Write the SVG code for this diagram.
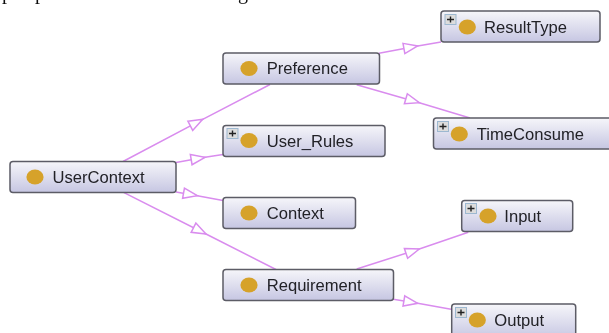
<svg xmlns="http://www.w3.org/2000/svg" width="609" height="333" viewBox="0 0 609 333">
<style>
.box{fill:url(#g);stroke:#5c5c66;stroke-width:1.5}
.dot{fill:#d6a22a}
.lbl{font-family:"Liberation Sans",Arial,sans-serif;font-size:16.6px;fill:#222228}
.top{font-family:"Liberation Serif","Times New Roman",serif;font-size:20px;fill:#111}
.edge{fill:none;stroke:#d98cee;stroke-width:1.5;marker-mid:url(#tri)}
.pb{fill:#dcdcdc;stroke:#9db8d0;stroke-width:1}
.pm{stroke:#222;stroke-width:1.4;fill:none}
</style>
<defs>
<linearGradient id="g" x1="0" y1="0" x2="0" y2="1"><stop offset="0" stop-color="#f6f6fa"/><stop offset="1" stop-color="#c6c6e2"/></linearGradient>
<marker id="tri" markerUnits="userSpaceOnUse" markerWidth="20" markerHeight="16" refX="16" refY="8" orient="auto"><path d="M2 2.8L16 8L2 13.2Z" fill="#fff" stroke="#d98cee" stroke-width="1.5"/></marker>
<filter id="b" x="-2%" y="-2%" width="104%" height="104%"><feGaussianBlur stdDeviation="0.45"/></filter>
<g id="plus"><rect class="pb" x="0" y="0" width="11" height="10"/><path class="pm" d="M2 5H9M5.5 2V8"/></g>
</defs>
<rect width="609" height="333" fill="#fff"/>
<g filter="url(#b)">
<g id="page-text"><text class="top" x="2" y="-1">p</text><text class="top" x="35" y="-1">p</text><text class="top" x="238" y="-1">g</text></g>
<g id="connectors">
<polyline class="edge" points="123,161.5 202.7,119.3 270,84.5"/>
<polyline class="edge" points="176,162.5 205,157.3 223,154.5"/>
<polyline class="edge" points="176,192 197.3,195.7 223,200.5"/>
<polyline class="edge" points="124,192.7 206,234 276,269.5"/>
<polyline class="edge" points="379,53.3 417.7,46 441,42"/>
<polyline class="edge" points="356.7,84.7 419.3,102.7 470,118"/>
<polyline class="edge" points="356.7,269 419.3,249 468.3,232.3"/>
<polyline class="edge" points="393.3,299.3 417.7,303.3 451,309.3"/>
</g>
<g id="UserContext"><rect class="box" x="10" y="161.5" width="166" height="31" rx="3"/><ellipse class="dot" cx="35" cy="177" rx="8.6" ry="7.6"/><text class="lbl" x="52.5" y="182.5">UserContext</text></g>
<g id="Preference"><rect class="box" x="223" y="53" width="156.5" height="31" rx="3"/><ellipse class="dot" cx="249" cy="68.5" rx="8.6" ry="7.6"/><text class="lbl" x="266.7" y="74">Preference</text></g>
<g id="User_Rules"><rect class="box" x="223" y="125.5" width="162" height="31" rx="3"/><use href="#plus" x="227" y="128.5"/><ellipse class="dot" cx="249" cy="140.5" rx="8.6" ry="7.6"/><text class="lbl" x="266.7" y="146.5">User_Rules</text></g>
<g id="Context"><rect class="box" x="223" y="197.5" width="132.5" height="31" rx="3"/><ellipse class="dot" cx="249" cy="213" rx="8.6" ry="7.6"/><text class="lbl" x="266.7" y="218.5">Context</text></g>
<g id="Requirement"><rect class="box" x="223" y="269.5" width="170.5" height="31" rx="3"/><ellipse class="dot" cx="249" cy="285" rx="8.6" ry="7.6"/><text class="lbl" x="266.7" y="290.5">Requirement</text></g>
<g id="ResultType"><rect class="box" x="441" y="11" width="159" height="31" rx="3"/><use href="#plus" x="445" y="14.5"/><ellipse class="dot" cx="467.3" cy="27" rx="8.6" ry="7.6"/><text class="lbl" x="484" y="32.5">ResultType</text></g>
<g id="TimeConsume"><rect class="box" x="433.5" y="118" width="180" height="31" rx="3"/><use href="#plus" x="437.5" y="121.5"/><ellipse class="dot" cx="459.3" cy="134" rx="8.6" ry="7.6"/><text class="lbl" x="476.7" y="139.5">TimeConsume</text></g>
<g id="Input"><rect class="box" x="461.7" y="200.5" width="111" height="31" rx="3"/><use href="#plus" x="465.5" y="203.5"/><ellipse class="dot" cx="488" cy="216" rx="8.6" ry="7.6"/><text class="lbl" x="504.3" y="221.5">Input</text></g>
<g id="Output"><rect class="box" x="451.7" y="304" width="124" height="35" rx="3"/><use href="#plus" x="455.5" y="307.5"/><ellipse class="dot" cx="477.3" cy="320" rx="8.6" ry="7.6"/><text class="lbl" x="494.3" y="325.5">Output</text></g>
</g>
</svg>
